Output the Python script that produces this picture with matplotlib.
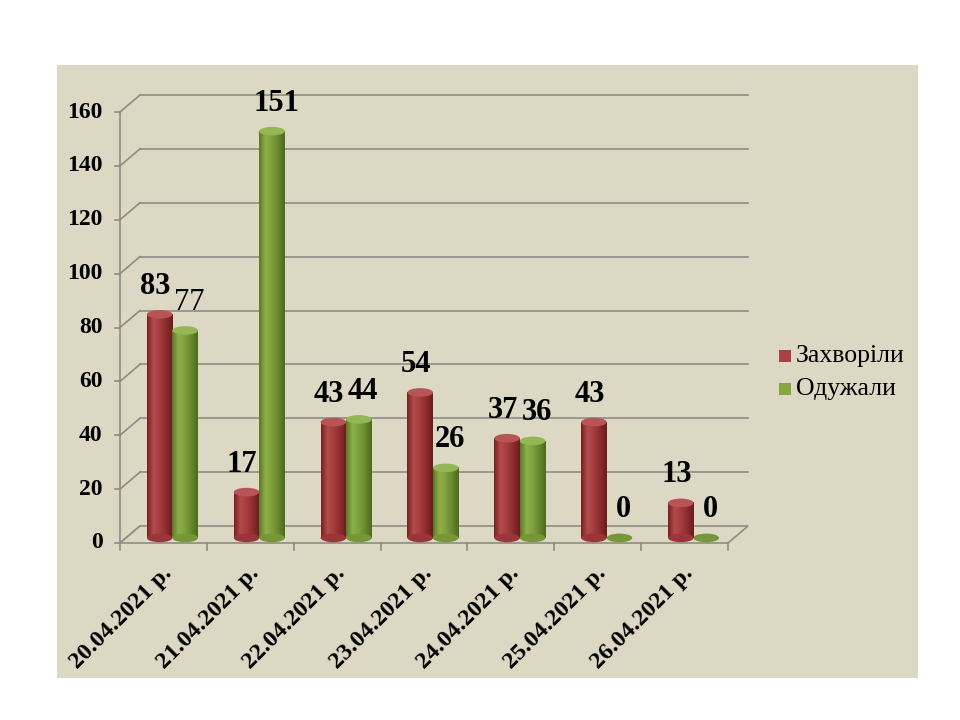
import numpy as np
import matplotlib
matplotlib.use('Agg')
import matplotlib.pyplot as plt
from matplotlib.patches import Rectangle, Ellipse, Polygon
from matplotlib.colors import LinearSegmentedColormap

dates = ['20.04.2021 р.', '21.04.2021 р.', '22.04.2021 р.', '23.04.2021 р.',
         '24.04.2021 р.', '25.04.2021 р.', '26.04.2021 р.']
sick = [83, 17, 43, 54, 37, 43, 13]
recovered = [77, 151, 44, 26, 36, 0, 0]
series_names = ['Захворіли', 'Одужали']
yticks = [0, 20, 40, 60, 80, 100, 120, 140, 160]

plt.rcParams['font.family'] = ['Liberation Serif', 'DejaVu Serif']

bg = '#DDD8C4'
grid_col = '#8E8C82'
red_cmap = LinearSegmentedColormap.from_list('r', ['#7A2022', '#B24C4C', '#A53C3D', '#8A2C2E', '#6A1C1E'])
green_cmap = LinearSegmentedColormap.from_list('g', ['#5C7826', '#8CB04A', '#7FA03E', '#68872E', '#4F6A1E'])
red_top = '#B85456'
green_top = '#95B654'

fig = plt.figure(figsize=(9.6, 7.2), dpi=100)
fig.patches.append(Rectangle((57 / 960, 1 - 678 / 720), (918 - 57) / 960, (678 - 65) / 720,
                             transform=fig.transFigure, facecolor=bg, edgecolor='none', zorder=-5))

ax = fig.add_axes([120 / 960, 1 - 543 / 720, 608 / 960, 431 / 720])
ax.set_facecolor('none')
n = len(dates)
for s in ax.spines.values():
    s.set_visible(False)
ax.set_xticks([])
ax.set_yticks([])

# depth offset in data units
dx = 20 / (608 / n)
dy = 17 / (431 / 160)
x0, x1 = -0.5, n - 0.5

# back wall grid and side connectors
for v in yticks:
    if v > 0:
        ax.plot([x0 + dx, x1 + dx], [v + dy, v + dy], color=grid_col, lw=1.2, clip_on=False, zorder=1)
    ax.plot([x0, x0 + dx], [v, v + dy], color=grid_col, lw=1.2, clip_on=False, zorder=1)
    ax.plot([x0 - 0.06, x0], [v, v], color=grid_col, lw=1.2, clip_on=False, zorder=1)
    ax.text(x0 - 0.2, v, str(v), ha='right', va='center', fontsize=17, fontweight='bold')
ax.plot([x0, x0], [0, 160], color=grid_col, lw=1.2, clip_on=False, zorder=1)

# floor
ax.add_patch(Polygon([[x0, 0], [x1, 0], [x1 + dx, dy], [x0 + dx, dy]], closed=True,
                     facecolor=bg, edgecolor=grid_col, lw=1.2, clip_on=False, zorder=1))
for i in range(n + 1):
    ax.plot([x0 + i, x0 + i], [0, -2.6], color=grid_col, lw=1.2, clip_on=False, zorder=1)

# cylinders
bw = 25.5 / (608 / n)
eh = 3.2
grad = np.linspace(0, 1, 64).reshape(1, -1)
base = dy * 0.3
for i in range(n):
    cx = i + dx * 0.45
    for j, (vals, cmap, topc) in enumerate([(sick, red_cmap, red_top), (recovered, green_cmap, green_top)]):
        v = vals[i]
        left = cx - bw + j * bw
        mid = left + bw / 2
        if v > 0:
            ax.imshow(grad, cmap=cmap, aspect='auto', extent=[left, left + bw, base, base + v],
                      zorder=3 + j, interpolation='bilinear')
            ax.add_patch(Ellipse((mid, base), bw, eh, facecolor=cmap(0.6), edgecolor='none', zorder=3 + j))
            ax.add_patch(Ellipse((mid, base + v), bw, eh, facecolor=topc, edgecolor='none', zorder=3 + j))
        else:
            ax.add_patch(Ellipse((mid, base), bw, eh, facecolor=cmap(0.6), edgecolor='none', zorder=3 + j))
        weight = 'normal' if (i == 0 and j == 1) else 'bold'
        lx = mid - 0.05 if j == 0 else mid + 0.05
        ax.text(lx, base + v + 5, str(v), ha='center', va='bottom', fontsize=22, fontweight=weight, zorder=6)

ax.set_xlim(-0.5, n - 0.5)
ax.set_ylim(0, 160)

# category labels
for i, d in enumerate(dates):
    ax.text(i + 0.06, -10, d, rotation=45, rotation_mode='anchor', ha='right', va='center',
            fontsize=17.5, fontweight='bold')

# legend
leg_cols = [red_cmap(0.4), green_cmap(0.4)]
for k, name in enumerate(series_names):
    fy = 1 - (356 + 33 * k) / 720
    fig.patches.append(Rectangle((779 / 960, fy - 6 / 720), 12 / 960, 12 / 720,
                                 transform=fig.transFigure, facecolor=leg_cols[k], edgecolor='none'))
    fig.text(796 / 960, fy, name, ha='left', va='center', fontsize=18.5)

fig.savefig('out.png', dpi=100, facecolor='white')
